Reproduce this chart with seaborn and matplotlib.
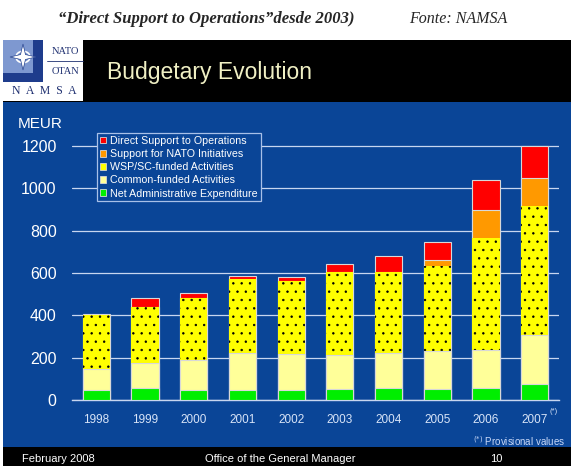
import numpy as np
import pandas as pd
import matplotlib
matplotlib.use("Agg")
import matplotlib.pyplot as plt
from matplotlib.patches import Rectangle, Patch, Circle, Polygon
import seaborn as sns

## Data (MEUR)
years = ["1998", "1999", "2000", "2001", "2002", "2003", "2004", "2005", "2006", "2007"]
net_admin = [46, 55, 49, 49, 49, 52, 57, 52, 55, 74]
common_funded = [102, 118, 139, 172, 167, 162, 164, 178, 180, 235]
wsp_funded = [254, 268, 296, 351, 347, 390, 383, 404, 529, 610]
nato_initiatives = [0, 0, 0, 0, 0, 0, 0, 26, 134, 129]
direct_support = [4, 40, 22, 13, 19, 39, 78, 87, 142, 153]
series_labels = ["Direct Support to Operations", "Support for NATO Initiatives",
                 "WSP/SC-funded Activities", "Common-funded Activities",
                 "Net Administrative Expenditure"]
yticks = [0, 200, 400, 600, 800, 1000, 1200]

## Colours
BLUE = "#0a4597"
RED, ORANGE, YELLOW, CREAM, GREEN = "#ff0000", "#ff9900", "#ffff00", "#ffff99", "#00ee00"
EDGE = "#d8d8d8"
GRID = "#c8d6f0"

sns.set_style("white")
plt.rcParams["font.family"] = ["Liberation Sans", "DejaVu Sans"]
plt.rcParams["hatch.linewidth"] = 0.5

W, H = 573, 468
fig = plt.figure(figsize=(W / 100, H / 100), dpi=100)
fig.patch.set_facecolor("white")


def box(x0, y0, x1, y1, color, z=0):
    fig.add_artist(Rectangle((x0 / W, 1 - y1 / H), (x1 - x0) / W, (y1 - y0) / H,
                             transform=fig.transFigure, facecolor=color,
                             edgecolor="none", zorder=z))


def ftext(x, y, s, **kw):
    fig.text(x / W, 1 - y / H, s, **kw)


## Slide background
box(3, 40, 571, 466, BLUE)
box(3, 40, 571, 102, "black")
box(3, 447, 571, 466, "black")

## Logo
box(3, 40, 43, 82, "#1e3c8c", 1)
box(3, 40, 33, 73, "#7e98d0", 1)
box(43, 40, 83, 82, "white", 1)
box(3, 82, 83, 101, "white", 1)
cx, cy = 23 / W, 1 - 57 / H
fig.add_artist(Circle((cx, cy), 7 / W, transform=fig.transFigure, fill=False,
                      edgecolor="white", lw=1.2, zorder=2))
star = []
for k in range(8):
    ang = np.pi / 2 + k * np.pi / 4
    r = 13 if k % 2 == 0 else 3.5
    star.append((cx + r * np.cos(ang) / W, cy + r * np.sin(ang) / H))
fig.add_artist(Polygon(star, closed=True, transform=fig.transFigure,
                       facecolor="white", edgecolor="#1e3c8c", lw=0.5, zorder=3))
ftext(65, 51, "NATO", fontsize=7.5, family="Liberation Serif", color="#1e2f70",
      ha="center", va="center", zorder=3)
ftext(65, 71, "OTAN", fontsize=7.5, family="Liberation Serif", color="#1e2f70",
      ha="center", va="center", zorder=3)
fig.add_artist(plt.Line2D([47 / W, 83 / W], [1 - 61 / H, 1 - 61 / H],
                          transform=fig.transFigure, color="#1e2f70", lw=0.6, zorder=3))
ftext(44, 91.5, "N  A  M  S  A", fontsize=8.5, family="Liberation Serif", color="#1e2f70",
      ha="center", va="center", zorder=3)

## Titles and header texts
ftext(206, 19, "\u201cDirect Support to Operations\u201ddesde 2003)", fontsize=12,
      family="Liberation Serif", style="italic", weight="bold", ha="center", va="center")
ftext(458, 19, "Fonte: NAMSA", fontsize=11.5, family="Liberation Serif",
      style="italic", ha="center", va="center")
ftext(107, 73, "Budgetary Evolution", fontsize=16.5, color="#f0f0c4", ha="left", va="center")
ftext(40, 124, "MEUR", fontsize=11, color="white", ha="center", va="center")

## Footer
ftext(22, 458.5, "February 2008", fontsize=8, color="white", ha="left", va="center")
ftext(280, 458.5, "Office of the General Manager", fontsize=8, color="white",
      ha="center", va="center")
ftext(502, 458.5, "10", fontsize=8, color="white", ha="right", va="center")
ftext(565, 441, r"$^{(*)}$ Provisional values", fontsize=7, color="#c8d8f8",
      ha="right", va="center")

## Chart
ax = fig.add_axes([72 / W, (H - 400) / H, 487 / W, (400 - 135.6) / H])
ax.set_facecolor("none")
ax.set_zorder(5)

df = pd.DataFrame({"year": years, "nae": net_admin, "cf": common_funded,
                   "wsp": wsp_funded, "init": nato_initiatives, "dso": direct_support})
df["c1"] = df["nae"]
df["c2"] = df["c1"] + df["cf"]
df["c3"] = df["c2"] + df["wsp"]
df["c4"] = df["c3"] + df["init"]
df["c5"] = df["c4"] + df["dso"]

bw = 0.56
sns.barplot(df, x="year", y="c5", color=RED, saturation=1, width=bw,
            edgecolor=EDGE, linewidth=0.8, ax=ax, zorder=3)
sns.barplot(df, x="year", y="c4", color=ORANGE, saturation=1, width=bw,
            edgecolor=EDGE, linewidth=0.8, ax=ax, zorder=3)
sns.barplot(df, x="year", y="c3", color=YELLOW, saturation=1, width=bw,
            edgecolor="black", linewidth=0, hatch="..", ax=ax, zorder=3)
sns.barplot(df, x="year", y="c2", color=CREAM, saturation=1, width=bw,
            edgecolor=EDGE, linewidth=0.8, ax=ax, zorder=3)
sns.barplot(df, x="year", y="c1", color=GREEN, saturation=1, width=bw,
            edgecolor=EDGE, linewidth=0.8, ax=ax, zorder=3)

ax.set_xlim(-0.5, len(years) - 0.5)
ax.set_ylim(0, 1250)
ax.set_yticks(yticks)
ax.set_yticklabels([str(v) for v in yticks])
ax.yaxis.grid(True, color=GRID, lw=0.9, zorder=1)
ax.set_axisbelow(True)
ax.set_xlabel("")
ax.set_ylabel("")
for s in ["top", "right", "left"]:
    ax.spines[s].set_visible(False)
ax.spines["bottom"].set_color(GRID)
ax.spines["bottom"].set_linewidth(1.0)
ax.tick_params(axis="y", length=0, pad=11, labelsize=11.5, labelcolor="white")
ax.tick_params(axis="x", which="major", length=0, pad=10, labelsize=8.5,
               labelcolor="#d8e4f8")
ax.set_xticks(np.arange(-0.5, len(years)), minor=True)
ax.tick_params(axis="x", which="minor", length=3, width=0.9, color=GRID, direction="out")
ax.annotate("(*)", xy=(9, 0), xycoords=("data", "axes fraction"), xytext=(11, -8.5),
            textcoords="offset points", fontsize=5.5, color="#d8e4f8",
            ha="left", va="center")

## Legend
handles = [Patch(facecolor=c, edgecolor=EDGE, lw=0.6)
           for c in [RED, ORANGE, YELLOW, CREAM, GREEN]]
leg = fig.legend(handles, series_labels, loc="upper left",
                 bbox_to_anchor=(97 / W, 1 - 133 / H), borderaxespad=0,
                 fontsize=7.7, labelcolor="white", frameon=True, fancybox=False,
                 facecolor=BLUE, edgecolor="#a8c0e8", framealpha=1,
                 handlelength=0.6, handleheight=0.6, handletextpad=0.4,
                 labelspacing=0.3, borderpad=0.25)
leg.get_frame().set_linewidth(0.9)
leg.set_zorder(10)

fig.savefig("out.png", dpi=100, facecolor="white")
